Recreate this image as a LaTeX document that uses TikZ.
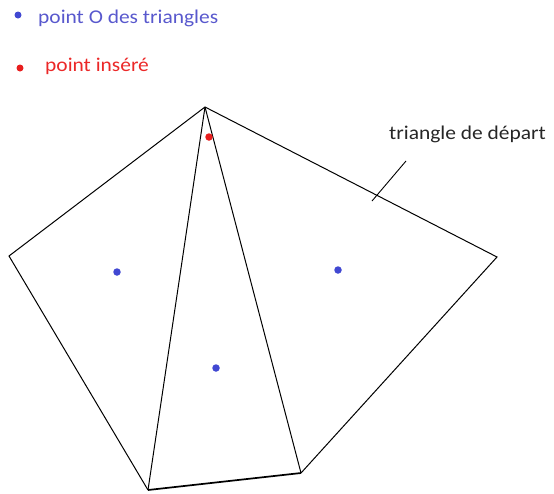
\documentclass[tikz,border=0pt]{standalone}
\usepackage{fontspec}
\setmainfont{Carlito}[FakeStretch=1.1]
\definecolor{ptblue}{RGB}{65,72,210}
\definecolor{txtblue}{RGB}{88,88,205}
\definecolor{ptred}{RGB}{232,30,30}
\definecolor{txtred}{RGB}{235,40,40}
\begin{document}
\begin{tikzpicture}[x=1pt,y=-1pt,
  edge/.style={draw=black,line width=1pt,line join=miter},
  bdot/.style={circle,fill=ptblue,inner sep=0pt,minimum size=7.5pt},
  rdot/.style={circle,fill=ptred,inner sep=0pt,minimum size=7.5pt},
  lbl/.style={anchor=west,inner sep=0pt,font=\fontsize{19.5}{22}\selectfont}]
\useasboundingbox (0,0) rectangle (554,493);
% vertices
\coordinate (A) at (205,107);
\coordinate (L) at (9,256);
\coordinate (R) at (497,257);
\coordinate (B1) at (148,490);
\coordinate (B2) at (301,473);
% edges
\draw[edge] (A) -- (L) -- (B1);
\draw[edge] (A) -- (B1);
\draw[edge] (A) -- (B2);
\draw[edge] (B2) -- (R) -- (A);
\draw[edge,line width=1.7pt] (B1) -- (B2);
% points O
\node[bdot] (o1) at (117,272) {};
\node[bdot] (o2) at (338,270) {};
\node[bdot] (o3) at (216,368) {};
% inserted point
\node[rdot] (p) at (209,137) {};
% legend
\node[bdot,minimum size=7pt] (lb) at (18,15) {};
\node[lbl,text=txtblue] (lbt) at (38,18) {point O des triangles};
\node[rdot,minimum size=7pt] (lr) at (20,68) {};
\node[lbl,text=txtred] (lrt) at (45,66) {point inséré};
% label start triangle
\node[lbl,text=black!85] (st) at (389,134) {triangle de départ};
\coordinate (s1) at (372,201);
\coordinate (s2) at (406,161);
\draw[line width=0.9pt] (s1) -- (s2);
\end{tikzpicture}
\end{document}
